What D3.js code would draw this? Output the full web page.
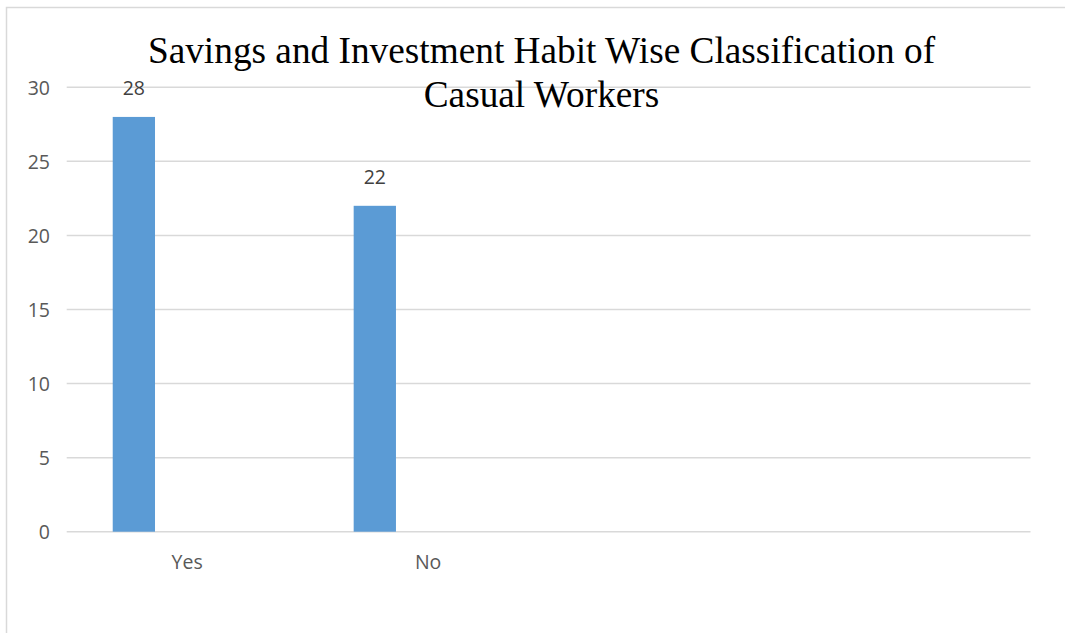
<!DOCTYPE html>
<html>
<head>
<meta charset="utf-8">
<script src="https://cdn.jsdelivr.net/npm/d3@7"></script>
<style>
  html, body { margin: 0; padding: 0; background: #fff; }
  svg { display: block; }
</style>
</head>
<body>
<svg id="chart" width="1065" height="633"></svg>
<script>
// ---- data ----
const categories = ["Yes", "No", "", ""];
const values = [28, 22, null, null];
const yTicks = [0, 5, 10, 15, 20, 25, 30];
const titleLines = ["Savings and Investment Habit Wise Classification of", "Casual Workers"];

// ---- layout ----
const plot = { left: 66.7, right: 1030.5, top: 87.3, bottom: 531.7 };
const svg = d3.select("#chart");

// chart area border
svg.append("rect")
  .attr("x", 6.5).attr("y", 7.5)
  .attr("width", 1200).attr("height", 800)
  .attr("fill", "#fff")
  .attr("stroke", "#d9d9d9").attr("stroke-width", 1.5);

const x = d3.scaleBand().domain(d3.range(categories.length))
  .range([plot.left, plot.right]).padding(0);
const y = d3.scaleLinear().domain([0, 30]).range([plot.bottom, plot.top]);

// gridlines
svg.append("g").selectAll("line").data(yTicks).join("line")
  .attr("x1", plot.left).attr("x2", plot.right)
  .attr("y1", d => y(d)).attr("y2", d => y(d))
  .attr("stroke", "#d9d9d9").attr("stroke-width", 1.5);

// y axis labels
const yAxis = d3.axisLeft(y).tickValues(yTicks).tickSize(0).tickPadding(0);
const gy = svg.append("g").attr("transform", "translate(50,0)").call(yAxis);
gy.select(".domain").remove();
gy.selectAll("text")
  .attr("font-family", "'Open Sans', sans-serif")
  .attr("font-size", 19.5).attr("fill", "#595959").attr("dy", "0.36em");

// bars (first series position within each cluster)
const barOffset = 0.191, barWidth = 0.1755;
const barData = values.map((v, i) => ({ i, v })).filter(d => d.v != null);
svg.append("g").selectAll("rect").data(barData).join("rect")
  .attr("x", d => x(d.i) + x.bandwidth() * barOffset)
  .attr("width", x.bandwidth() * barWidth)
  .attr("y", d => y(d.v))
  .attr("height", d => y(0) - y(d.v))
  .attr("fill", "#5b9bd5");

// value labels
svg.append("g").selectAll("text").data(barData).join("text")
  .attr("x", d => x(d.i) + x.bandwidth() * (barOffset + barWidth / 2))
  .attr("y", d => y(d.v) - 22)
  .attr("text-anchor", "middle")
  .attr("font-family", "'Open Sans', sans-serif")
  .attr("font-size", 19.5).attr("fill", "#404040")
  .text(d => d.v);

// x axis labels
const xAxis = d3.axisBottom(x).tickFormat(i => categories[i]).tickSize(0).tickPadding(0);
const gx = svg.append("g").attr("transform", `translate(0,${plot.bottom})`).call(xAxis);
gx.select(".domain").remove();
gx.selectAll("text")
  .attr("font-family", "'Open Sans', sans-serif")
  .attr("font-size", 19.5).attr("fill", "#595959")
  .attr("dy", null).attr("y", 37);

// title
const title = svg.append("text")
  .attr("text-anchor", "middle")
  .attr("font-family", "'Liberation Serif', 'Times New Roman', serif")
  .attr("font-size", 37.3).attr("fill", "#000");
title.selectAll("tspan").data(titleLines).join("tspan")
  .attr("x", 541.5)
  .attr("y", (d, i) => 62.7 + i * 44)
  .text(d => d);
</script>
</body>
</html>
